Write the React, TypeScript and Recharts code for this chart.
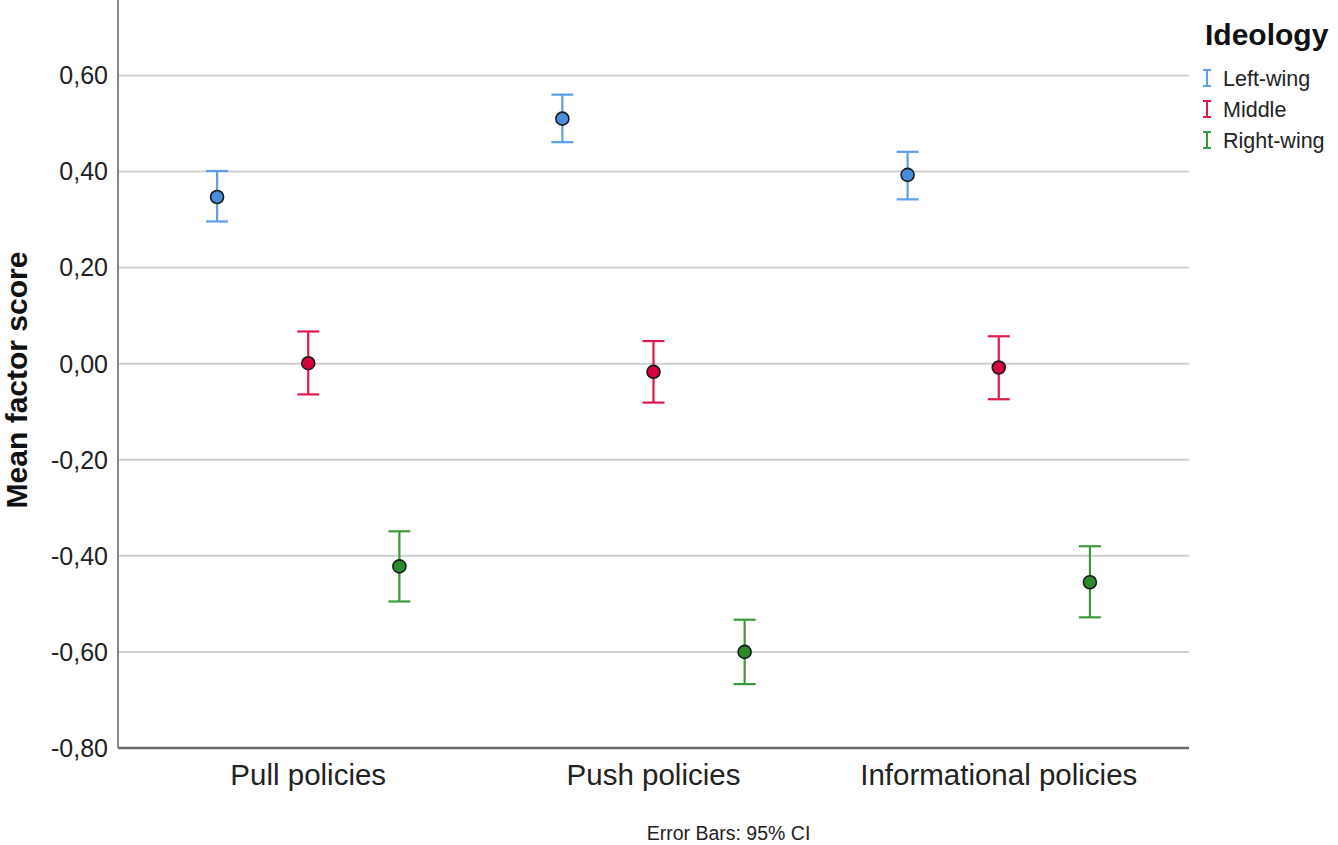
import React from "react"
import {
  ScatterChart,
  Scatter,
  ErrorBar,
  ReferenceLine,
  XAxis,
  YAxis,
  Legend,
} from "recharts"

const categories = ["Pull policies", "Push policies", "Informational policies"]
const groups = ["Left-wing", "Middle", "Right-wing"]

const leftMean = [0.347, 0.51, 0.393]
const leftLow = [0.296, 0.461, 0.342]
const leftHigh = [0.401, 0.56, 0.441]

const middleMean = [0.001, -0.017, -0.008]
const middleLow = [-0.064, -0.081, -0.074]
const middleHigh = [0.067, 0.047, 0.057]

const rightMean = [-0.422, -0.6, -0.455]
const rightLow = [-0.495, -0.667, -0.528]
const rightHigh = [-0.349, -0.533, -0.38]

const yTicks = [-0.8, -0.6, -0.4, -0.2, 0, 0.2, 0.4, 0.6]

const FONT = '"Liberation Sans", Arial, sans-serif'
const barColors = ["#5c9eea", "#e2174a", "#3b9a3b"]
const dotColors = ["#4a8edb", "#d6003c", "#2a8a2a"]
// clustered points sit left / centre / right of each category
const clusterOffset = [-0.264, 0, 0.264]

function build(mean: number[], low: number[], high: number[], g: number) {
  return categories.map((c, i) => ({
    category: c,
    x: i + clusterOffset[g],
    y: mean[i],
    err: [mean[i] - low[i], high[i] - mean[i]],
  }))
}

const series = [
  build(leftMean, leftLow, leftHigh, 0),
  build(middleMean, middleLow, middleHigh, 1),
  build(rightMean, rightLow, rightHigh, 2),
]

const fmt = (v: number) => v.toFixed(2).replace(".", ",")

function LegendBox() {
  return (
    <svg width={143} height={160} style={{ display: "block" }}>
      <text x={10} y={45} fontFamily={FONT} fontWeight="bold" fontSize={30} fill="#111">
        Ideology
      </text>
      {groups.map((g, i) => {
        const cy = 78 + i * 31
        const c = barColors[i]
        return (
          <g key={g}>
            <line x1={12} x2={12} y1={cy - 8} y2={cy + 8} stroke={c} strokeWidth={2} />
            <line x1={8} x2={16} y1={cy - 8} y2={cy - 8} stroke={c} strokeWidth={2} />
            <line x1={8} x2={16} y1={cy + 8} y2={cy + 8} stroke={c} strokeWidth={2} />
            <text x={28} y={cy + 8} fontFamily={FONT} fontSize={21.5} fill="#222">
              {g}
            </text>
          </g>
        )
      })}
    </svg>
  )
}

export default function App() {
  return (
    <div style={{ position: "absolute", left: 0, top: 0, background: "#fff" }}>
      <ScatterChart
        width={1338}
        height={845}
        margin={{ top: 0, right: 6, bottom: 0, left: 0 }}
      >
        {yTicks.slice(1).map((t) => (
          <ReferenceLine key={t} y={t} stroke="#cfcfcf" strokeWidth={2} />
        ))}
        <XAxis
          type="number"
          dataKey="x"
          domain={[-0.551, 2.551]}
          ticks={[0, 1, 2]}
          tickFormatter={(i: number) => categories[i]}
          height={97}
          tickLine={false}
          tickSize={0}
          tickMargin={16}
          axisLine={{ stroke: "#6a6a6a", strokeWidth: 2.5 }}
          tick={{ fontSize: 29.5, fill: "#222", fontFamily: FONT }}
          label={{
            content: ({ viewBox }: any) => (
              <text
                x={viewBox.x + viewBox.width / 2 + 75}
                y={840}
                textAnchor="middle"
                fontFamily={FONT}
                fontSize={19.5}
                fill="#222"
              >
                Error Bars: 95% CI
              </text>
            ),
          }}
        />
        <YAxis
          type="number"
          dataKey="y"
          domain={[-0.8, 0.757]}
          ticks={yTicks}
          tickFormatter={fmt}
          width={118}
          tickLine={false}
          tickSize={0}
          tickMargin={10}
          axisLine={{ stroke: "#8a8a8a", strokeWidth: 2 }}
          tick={{ fontSize: 25, fill: "#222", fontFamily: FONT }}
          label={{
            content: () => (
              <text
                x={0}
                y={0}
                transform="translate(27, 380) rotate(-90)"
                textAnchor="middle"
                fontFamily={FONT}
                fontWeight="bold"
                fontSize={30}
                fill="#111"
              >
                Mean factor score
              </text>
            ),
          }}
        />
        <Legend
          layout="vertical"
          verticalAlign="top"
          align="right"
          content={() => <LegendBox />}
          wrapperStyle={{ position: "absolute", left: 1195, top: 0, width: 143 }}
        />
        {series.map((data, g) => (
          <Scatter
            key={groups[g]}
            name={groups[g]}
            data={data}
            fill={dotColors[g]}
            isAnimationActive={false}
            shape={(p: any) => (
              <circle
                cx={p.cx}
                cy={p.cy}
                r={6.5}
                fill={dotColors[g]}
                stroke="#1a1a1a"
                strokeWidth={1.6}
              />
            )}
          >
            <ErrorBar
              dataKey="err"
              direction="y"
              width={11}
              stroke={barColors[g]}
              strokeWidth={2.2}
              isAnimationActive={false}
            />
          </Scatter>
        ))}
      </ScatterChart>
    </div>
  )
}
